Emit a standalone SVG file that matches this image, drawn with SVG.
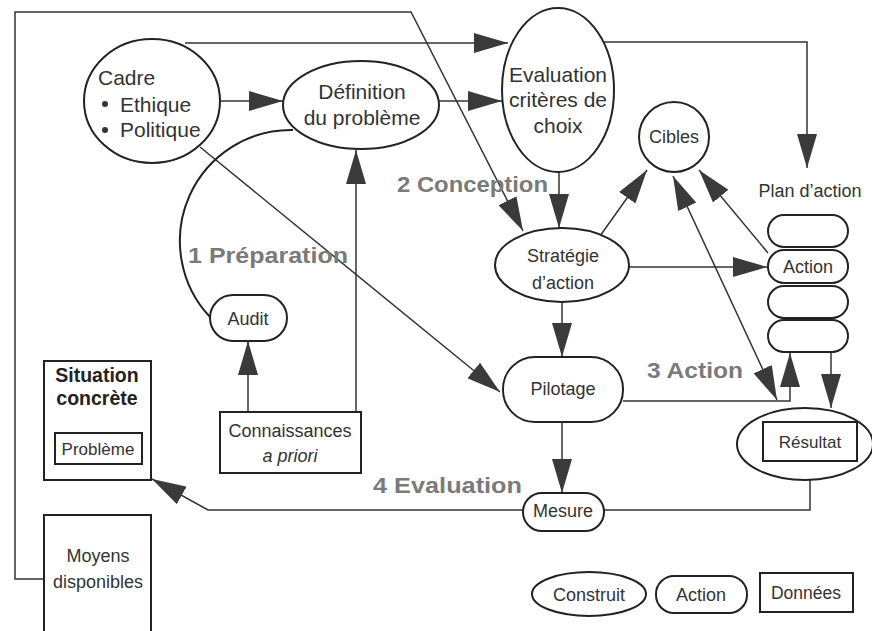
<svg xmlns="http://www.w3.org/2000/svg" width="872" height="631" viewBox="0 0 872 631">
  <style>
    .shape { fill: #ffffff; stroke: #222222; stroke-width: 2; }
    .conn { fill: none; stroke: #333333; stroke-width: 1.5; }
    .arc { fill: none; stroke: #222222; stroke-width: 2; }
    text { font-family: "Liberation Sans", Arial, sans-serif; fill: #333333; }
    .big { font-size: 21px; }
    .mid { font-size: 18px; }
    .c { text-anchor: middle; }
    .phase { font-size: 22px; font-weight: bold; fill: #7a7a7a; }
    .bold { font-weight: bold; fill: #222222; }
  </style>
  <defs>
    <marker id="arrow" markerUnits="userSpaceOnUse" markerWidth="34" markerHeight="20" refX="34" refY="10" orient="auto-start-reverse">
      <path d="M0,0 L34,10 L0,20 Z" fill="#3a3a3a"/>
    </marker>
  </defs>
  <rect width="872" height="631" fill="#ffffff"/>

  <!-- connectors -->
  <g id="connectors">
    <path class="conn" d="M44,579 H15 V12 H411 L523,231" marker-end="url(#arrow)"/>
    <path class="conn" d="M185,43 H508" marker-end="url(#arrow)"/>
    <path class="conn" d="M604,42 H807 V168" marker-end="url(#arrow)"/>
    <path class="conn" d="M220,101 H283" marker-end="url(#arrow)"/>
    <path class="conn" d="M439,101 H502" marker-end="url(#arrow)"/>
    <path class="conn" d="M559,172 V228" marker-end="url(#arrow)"/>
    <path class="conn" d="M600,236 L647,170" marker-end="url(#arrow)"/>
    <path class="conn" d="M629,267 H767" marker-end="url(#arrow)"/>
    <path class="conn" d="M768,253 L699,170" marker-end="url(#arrow)"/>
    <path class="conn" d="M673,176 L777,400" marker-start="url(#arrow)" marker-end="url(#arrow)"/>
    <path class="conn" d="M562,302 V357" marker-end="url(#arrow)"/>
    <path class="conn" d="M200,147 L500,392" marker-end="url(#arrow)"/>
    <path class="conn" d="M623,401 H790 V353" marker-end="url(#arrow)"/>
    <path class="conn" d="M831,352 V408" marker-end="url(#arrow)"/>
    <path class="conn" d="M562,422 V493" marker-end="url(#arrow)"/>
    <path class="conn" d="M810,480 V510 H604"/>
    <path class="conn" d="M523,510 H208 L152,479" marker-end="url(#arrow)"/>
    <path class="conn" d="M248,412 V341" marker-end="url(#arrow)"/>
    <path class="conn" d="M356,412 V150" marker-end="url(#arrow)"/>
    <path class="arc" d="M293,130 A111,111 0 0 0 210,317"/>
  </g>

  <!-- phase labels -->
  <g id="phases">
    <text class="phase" x="188" y="263" textLength="160" lengthAdjust="spacingAndGlyphs">1 Préparation</text>
    <text class="phase" x="397" y="192" textLength="151" lengthAdjust="spacingAndGlyphs">2 Conception</text>
    <text class="phase" x="647" y="378" textLength="96" lengthAdjust="spacingAndGlyphs">3 Action</text>
    <text class="phase" x="373" y="493" textLength="149" lengthAdjust="spacingAndGlyphs">4 Evaluation</text>
  </g>

  <g id="cadre">
    <ellipse class="shape" cx="152" cy="101" rx="68" ry="62"/>
    <text class="big" x="98" y="85">Cadre</text>
    <circle cx="105" cy="104" r="3" fill="#333333"/>
    <text class="big" x="120" y="112">Ethique</text>
    <circle cx="105" cy="130" r="3" fill="#333333"/>
    <text class="big" x="120" y="137">Politique</text>
  </g>

  <g id="definition">
    <ellipse class="shape" cx="361" cy="105" rx="78" ry="44"/>
    <text class="big c" x="362" y="99">Définition</text>
    <text class="big c" x="362" y="125">du problème</text>
  </g>

  <g id="evaluation">
    <ellipse class="shape" cx="558" cy="90" rx="56" ry="82"/>
    <text class="big c" x="558" y="82">Evaluation</text>
    <text class="big c" x="558" y="107">critères de</text>
    <text class="big c" x="558" y="133">choix</text>
  </g>

  <g id="cibles">
    <circle class="shape" cx="674" cy="137" r="35"/>
    <text class="mid c" x="674" y="143">Cibles</text>
  </g>

  <g id="plan-action">
    <text class="mid c" x="810" y="197">Plan d’action</text>
    <rect class="shape" x="768" y="215" width="80" height="32" rx="16"/>
    <rect class="shape" x="768" y="250" width="80" height="33" rx="16"/>
    <rect class="shape" x="768" y="286" width="80" height="32" rx="16"/>
    <rect class="shape" x="768" y="320" width="80" height="32" rx="16"/>
    <text class="mid c" x="808" y="273">Action</text>
  </g>

  <g id="strategie">
    <ellipse class="shape" cx="562" cy="265" rx="67" ry="37"/>
    <text class="mid c" x="563" y="262">Stratégie</text>
    <text class="mid c" x="563" y="289">d’action</text>
  </g>

  <g id="pilotage">
    <rect class="shape" x="503" y="357" width="120" height="65" rx="32"/>
    <text class="mid c" x="563" y="395">Pilotage</text>
  </g>

  <g id="mesure">
    <rect class="shape" x="523" y="493" width="81" height="38" rx="19"/>
    <text class="mid c" x="563" y="517">Mesure</text>
  </g>

  <g id="resultat">
    <ellipse class="shape" cx="805" cy="444" rx="68" ry="36"/>
    <rect class="shape" x="763" y="422" width="94" height="39"/>
    <text class="c" x="810" y="448" font-size="17">Résultat</text>
  </g>

  <g id="audit">
    <rect class="shape" x="210" y="295" width="77" height="46" rx="23"/>
    <text class="mid c" x="248" y="325">Audit</text>
  </g>

  <g id="connaissances">
    <rect class="shape" x="220" y="412" width="141" height="61"/>
    <text class="mid c" x="290" y="437">Connaissances</text>
    <text class="mid c" x="290" y="462" font-style="italic">a priori</text>
  </g>

  <g id="situation">
    <rect class="shape" x="44" y="361" width="107" height="119"/>
    <text class="c bold" x="97" y="382" font-size="19.5">Situation</text>
    <text class="c bold" x="97" y="405" font-size="19.5">concrète</text>
    <rect class="shape" x="55" y="433" width="87" height="31" stroke-width="1.5"/>
    <text class="c" x="98" y="455" font-size="17">Problème</text>
  </g>

  <g id="moyens">
    <path class="shape" d="M44,640 V515 H151 V640"/>
    <text class="mid c" x="98" y="562">Moyens</text>
    <text class="mid c" x="98" y="588">disponibles</text>
  </g>

  <g id="legend">
    <ellipse class="shape" cx="589" cy="594" rx="57" ry="22"/>
    <text class="mid c" x="589" y="601">Construit</text>
    <rect class="shape" x="656" y="576" width="91" height="37" rx="18"/>
    <text class="mid c" x="701" y="601">Action</text>
    <rect class="shape" x="760" y="573" width="93" height="39"/>
    <text class="c" x="806" y="599" font-size="17.5">Données</text>
  </g>
</svg>
